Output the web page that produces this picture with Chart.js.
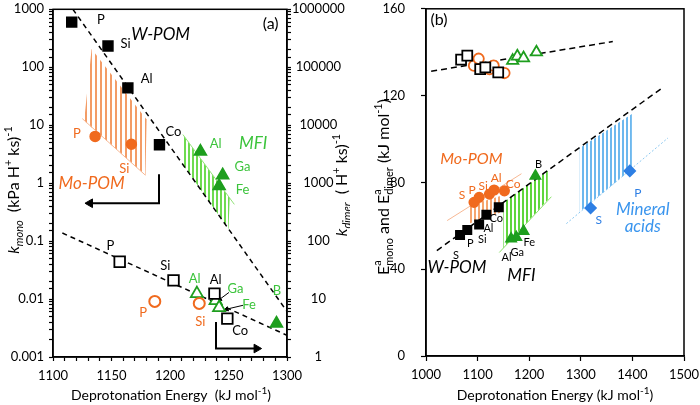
<!DOCTYPE html>
<html lang="en">
<head>
<meta charset="UTF-8">
<title>Rate constants and activation energies vs deprotonation energy</title>
<script src="https://cdn.jsdelivr.net/npm/chart.js"></script>
<style>
  html, body { margin: 0; padding: 0; background: #fff; }
  .wrap { display: flex; width: 700px; height: 405px; }
  canvas { display: block; }
</style>
</head>
<body>
<div class="wrap">
  <canvas id="chartA" width="350" height="405"></canvas>
  <canvas id="chartB" width="350" height="405"></canvas>
</div>
<script>
// ---------- panel (a): k vs deprotonation energy ----------
const aWpomMonoX = [1116, 1147, 1164, 1191];
const aWpomMonoY = [600, 232, 44, 4.6];
const aMopomMonoX = [1136, 1167];
const aMopomMonoY = [6.4, 4.7];
const aMfiMonoX = [1226, 1245, 1242, 1291];
const aMfiMonoY = [3.5, 1.37, 0.89, 0.0038];
// dimer rate constants, right axis units
const aWpomDimerX = [1157, 1203, 1238, 1249];
const aWpomDimerY = [44, 21, 12.4, 4.6];
const aMopomDimerX = [1187, 1225];
const aMopomDimerY = [9.1, 8.4];
const aMfiDimerX = [1223, 1239, 1242];
const aMfiDimerY = [12.4, 9.4, 7.1];
// trend lines
const aMonoFitX = [1117, 1300];
const aMonoFitY = [1000, 0.0061];
const aDimerFitX = [1108, 1300];
const aDimerFitY = [138, 2.37];
// shaded bands
const aMoBandX = [1127, 1133, 1180, 1179, 1127];
const aMoBandY = [14, 206, 12.5, 1.37, 11.7];
const aMoEdgeX = [1125, 1179];
const aMoEdgeY = [13, 1.37];
const aMfiBandX = [1211, 1251, 1250, 1211];
const aMfiBandY = [6.9, 0.55, 0.162, 2.1];
const aMfiEdgeX = [1211, 1255];
const aMfiEdgeY = [6.9, 0.43];
// arrows
const aArrowLeftX = [1190.6, 1190.6, 1131.6];
const aArrowLeftY = [1.42, 0.45, 0.45];
const aArrowRightX = [1239.3, 1239.3, 1274];
const aArrowRightY = [0.004, 0.0014, 0.0014];
const aArrowGaX = [1250.4, 1242.5];
const aArrowGaY = [0.013, 0.0099];
const aArrowFeX = [1262.4, 1248.5];
const aArrowFeY = [0.0078, 0.0067];

// ---------- panel (b): activation energies ----------
const bWpomMonoX = [1066, 1080, 1103, 1117, 1141];
const bWpomMonoY = [55.8, 58.1, 60.6, 65.1, 68.5];
const bMopomMonoX = [1093, 1103, 1123, 1132, 1152];
const bMopomMonoY = [70.8, 73.1, 74.6, 76.5, 76.1];
const bMfiMonoX = [1165, 1175, 1189, 1212];
const bMfiMonoY = [54.0, 54.7, 57.5, 83.0];
const bMineralX = [1319, 1395];
const bMineralY = [68.2, 85.3];
const bWpomDimerX = [1068, 1080, 1105, 1115, 1140];
const bWpomDimerY = [136.6, 138.4, 132.2, 133.0, 130.7];
const bMopomDimerX = [1093, 1102, 1123, 1131, 1152];
const bMopomDimerY = [133.8, 137.0, 132.2, 133.8, 130.4];
const bMfiDimerX = [1168, 1177, 1189, 1214];
const bMfiDimerY = [136.1, 138.1, 137.3, 140.0];
const bMonoFitX = [1021, 1457];
const bMonoFitY = [48.6, 123.4];
const bDimerFitX = [1010, 1362];
const bDimerFitY = [131.2, 144.9];
const bMoBandX = [1084, 1146, 1146, 1084];
const bMoBandY = [69.3, 73.9, 66.2, 61.1];
const bMfiBandX = [1150, 1236, 1236, 1150];
const bMfiBandY = [70.7, 85.5, 72, 49.7];
const bAcidBandX = [1298, 1399, 1399, 1298];
const bAcidBandY = [95.9, 111.5, 86.2, 66.5];
const bMoEdgeX = [1041, 1185];
const bMoEdgeY = [62.4, 84];
const bMfiEdgeX = [1142, 1243];
const bMfiEdgeY = [47.7, 73.4];
const bAcidEdgeX = [1272, 1469];
const bAcidEdgeY = [61, 100.5];

// ---------- text labels [text, x, y] ----------
const aBlackTags = [['P', 1141, 647], ['Si', 1162, 251], ['Al', 1180, 63], ['Co', 1203, 7.8],
  ['P', 1149, 0.083], ['Si', 1196, 0.038], ['Al', 1239, 0.0217], ['Co', 1260, 0.0028]];
const aOrangeTags = [['P', 1120.5, 7.2], ['Si', 1161, 1.74], ['P', 1177, 0.0057], ['Si', 1226, 0.004]];
const aGreenTags = [['Al', 1239, 4.7], ['Ga', 1262, 1.88], ['Fe', 1262, 0.76], ['Al', 1221, 0.0226],
  ['Ga', 1256, 0.0152], ['Fe', 1267.5, 0.0081], ['B', 1291.5, 0.0141]];
const bBlackTags = [['S', 1058, 46.3], ['P', 1086, 51.8], ['Si', 1109, 53.7], ['Al', 1121, 58.7], ['Co', 1136, 63.3],
  ['Al', 1156, 45.4], ['Ga', 1177, 47.7], ['Fe', 1200, 52.3], ['B', 1218, 88.5]];
const bOrangeTags = [['S', 1070, 74.3], ['P', 1089.5, 76.6], ['Si', 1111, 78.4], ['Al', 1136, 82.1], ['Co', 1169, 79.4]];
const bBlueTags = [['P', 1410.5, 75.2], ['S', 1334.6, 62.4]];

const FONT = 'Lato, "Open Sans", sans-serif';
const ORANGE = '#F06A1E';
const GREEN = '#1E9E1E';
const LGREEN = '#3CC43C';
const BLUE = '#2E7FE4';

const pts = (xs, ys) => xs.map((x, i) => ({ x: x, y: ys[i] }));

function stripes(color, period, width) {
  const c = document.createElement('canvas');
  c.width = period; c.height = 4;
  const g = c.getContext('2d');
  g.fillStyle = color;
  g.fillRect(0, 0, width, 4);
  return g.createPattern(c, 'repeat');
}

const mk = (xs, ys, o) => Object.assign({
  data: pts(xs, ys), showLine: false, order: 1, pointBorderWidth: 1.5
}, o);
const ln = (xs, ys, o) => Object.assign({
  data: pts(xs, ys), borderColor: '#000', borderWidth: 1.5, pointRadius: 0, fill: false, order: 2
}, o);
const band = (xs, ys, pattern) => ({
  data: pts(xs, ys), showLine: true, fill: 'shape', backgroundColor: pattern,
  borderColor: 'rgba(0,0,0,0)', borderWidth: 1, pointRadius: 0, order: 4
});
const arrow = (xs, ys, rot, r, w) => ln(xs, ys, {
  borderWidth: w, pointStyle: 'triangle', pointRotation: xs.map((x, i) => i === xs.length - 1 ? rot : 0),
  pointRadius: xs.map((x, i) => i === xs.length - 1 ? r : 0),
  pointBackgroundColor: '#000', pointBorderColor: '#000', pointBorderWidth: 1
});

function drawRich(ctx, parts, x, y, rot, size) {
  const small = Math.round(size * 0.68);
  const font = (p, s) => (p.i ? 'italic ' : '') + s + 'px ' + FONT;
  const widths = parts.map(p => {
    if (p.ss) {
      ctx.font = font(p, small);
      return Math.max(ctx.measureText(p.ss[0]).width, ctx.measureText(p.ss[1]).width);
    }
    ctx.font = font(p, p.sub || p.sup ? small : size);
    return ctx.measureText(p.t).width;
  });
  const total = widths.reduce((s, w) => s + w, 0);
  ctx.save();
  ctx.translate(x, y);
  ctx.rotate(rot);
  ctx.textAlign = 'left';
  ctx.textBaseline = 'alphabetic';
  ctx.fillStyle = '#000';
  let cx = -total / 2;
  const base = size * 0.35;
  parts.forEach((p, i) => {
    if (p.ss) {
      ctx.font = font(p, small);
      ctx.fillText(p.ss[0], cx, base - size * 0.45);
      ctx.fillText(p.ss[1], cx, base + size * 0.25);
    } else {
      ctx.font = font(p, p.sub || p.sup ? small : size);
      ctx.fillText(p.t, cx, base + (p.sub ? size * 0.25 : p.sup ? -size * 0.42 : 0));
    }
    cx += widths[i];
  });
  ctx.restore();
}

const notes = {
  id: 'notes',
  afterDraw(chart, args, opts) {
    const ctx = chart.ctx;
    const a = chart.chartArea;
    const xs = chart.scales.x, ys = chart.scales.y;
    ctx.save();
    ctx.strokeStyle = '#000';
    ctx.lineWidth = 1.5;
    ctx.strokeRect(a.left, a.top, a.right - a.left, a.bottom - a.top);
    ctx.textAlign = 'center';
    ctx.textBaseline = 'middle';
    for (const g of opts.groups) {
      ctx.font = g.font;
      ctx.fillStyle = g.color;
      for (const [t, x, y] of g.tags) ctx.fillText(t, xs.getPixelForValue(x), ys.getPixelForValue(y));
    }
    for (const t of opts.titles) drawRich(ctx, t.parts, t.x, t.y, t.rot, t.size);
    ctx.restore();
  }
};

const decade = v => {
  const l = Math.log10(v);
  return Math.abs(l - Math.round(l)) < 1e-6 ? String(Number(v.toPrecision(1))) : '';
};
const tickFont = { family: FONT, size: 13 };
const gridOf = len => ({ drawOnChartArea: false, drawTicks: true, tickLength: len, tickColor: '#000', tickWidth: 1.2 });
const borderOf = { color: '#000', width: 1.5 };
const fixW = w => s => { s.width = w; s.paddingTop = 0; s.paddingBottom = 0; };
const fixH = h => s => { s.height = h; s.paddingLeft = 0; s.paddingRight = 0; };
const small = n => n + 'px ' + FONT;
const ital = n => 'italic ' + n + 'px ' + FONT;

// ---------- chart (a) ----------
new Chart(document.getElementById('chartA'), {
  type: 'line',
  data: {
    datasets: [
      band(aMoBandX, aMoBandY, stripes('#F39C66', 5, 2)),
      band(aMfiBandX, aMfiBandY, stripes('#6EDB50', 4, 2)),
      ln(aMoEdgeX, aMoEdgeY, { borderColor: '#F7B894', borderWidth: 1, order: 3 }),
      ln(aMfiEdgeX, aMfiEdgeY, { borderColor: '#93E37A', borderWidth: 1, order: 3 }),
      ln(aMonoFitX, aMonoFitY, { borderDash: [5, 4] }),
      ln(aDimerFitX, aDimerFitY, { borderDash: [5, 4], yAxisID: 'y2' }),
      arrow(aArrowLeftX, aArrowLeftY, -90, 5, 2),
      arrow(aArrowRightX, aArrowRightY, 90, 5, 2),
      arrow(aArrowGaX, aArrowGaY, -125, 2.5, 1),
      arrow(aArrowFeX, aArrowFeY, -104, 2.5, 1),
      mk(aWpomMonoX, aWpomMonoY, { pointStyle: 'rect', pointRadius: 7, pointBackgroundColor: '#000', pointBorderColor: '#000' }),
      mk(aMopomMonoX, aMopomMonoY, { pointStyle: 'circle', pointRadius: 5, pointBackgroundColor: ORANGE, pointBorderColor: ORANGE }),
      mk(aMfiMonoX, aMfiMonoY, { pointStyle: 'triangle', pointRadius: 7, pointBackgroundColor: GREEN, pointBorderColor: GREEN }),
      mk(aWpomDimerX, aWpomDimerY, { yAxisID: 'y2', pointStyle: 'rect', pointRadius: 7.5, pointBackgroundColor: '#fff', pointBorderColor: '#000', pointBorderWidth: 1.8 }),
      mk(aMopomDimerX, aMopomDimerY, { yAxisID: 'y2', pointStyle: 'circle', pointRadius: 5.5, pointBackgroundColor: '#fff', pointBorderColor: ORANGE, pointBorderWidth: 2 }),
      mk(aMfiDimerX, aMfiDimerY, { yAxisID: 'y2', pointStyle: 'triangle', pointRadius: 7, pointBackgroundColor: '#fff', pointBorderColor: GREEN, pointBorderWidth: 1.8 })
    ]
  },
  options: {
    responsive: false,
    animation: false,
    events: [],
    layout: { padding: { top: 7, left: 0, right: 0, bottom: 0 } },
    plugins: {
      legend: { display: false },
      tooltip: { enabled: false },
      notes: {
        groups: [
          { font: small(13), color: '#000', tags: aBlackTags },
          { font: small(13), color: ORANGE, tags: aOrangeTags },
          { font: small(13), color: LGREEN, tags: aGreenTags },
          { font: ital(17), color: '#000', tags: [['W-POM', 1192, 373]] },
          { font: ital(17), color: ORANGE, tags: [['Mo-POM', 1133, 1.0]] },
          { font: ital(17), color: LGREEN, tags: [['MFI', 1271, 4.85]] },
          { font: small(16), color: '#000', tags: [['(a)', 1286, 553]] }
        ],
        titles: [
          { x: 13, y: 190, rot: -Math.PI / 2, size: 16, parts: [
            { t: 'k', i: true }, { t: 'mono', i: true, sub: true }, { t: '  (kPa H' }, { t: '+', sup: true }, { t: ' ks)' }, { t: '-1', sup: true }] },
          { x: 341, y: 185, rot: -Math.PI / 2, size: 16, parts: [
            { t: 'k', i: true }, { t: 'dimer', i: true, sub: true }, { t: '  ( H' }, { t: '+', sup: true }, { t: ' ks)' }, { t: '-1', sup: true }] },
          { x: 171, y: 395, rot: 0, size: 14, parts: [
            { t: 'Deprotonation Energy  (kJ mol' }, { t: '-1', sup: true }, { t: ')' }] }
        ]
      }
    },
    scales: {
      x: {
        type: 'linear', min: 1100, max: 1300,
        border: borderOf, grid: gridOf(4),
        ticks: { stepSize: 10, autoSkip: false, maxRotation: 0, padding: 7, color: '#000', font: tickFont,
          callback: v => v % 50 === 0 ? String(v) : '' },
        afterFit: fixH(48)
      },
      y: {
        type: 'logarithmic', position: 'left', min: 0.001, max: 1000,
        border: borderOf, grid: gridOf(4),
        ticks: { autoSkip: false, padding: 5, color: '#000', font: tickFont, callback: decade },
        afterFit: fixW(53)
      },
      y2: {
        type: 'logarithmic', position: 'right', min: 1, max: 1000000,
        border: borderOf, grid: gridOf(4),
        ticks: { autoSkip: false, padding: 1, crossAlign: 'center', color: '#000', font: tickFont, callback: decade },
        afterFit: fixW(63)
      }
    }
  },
  plugins: [notes]
});

// ---------- chart (b) ----------
new Chart(document.getElementById('chartB'), {
  type: 'line',
  data: {
    datasets: [
      band(bMoBandX, bMoBandY, stripes('#F5A56F', 4, 2)),
      band(bMfiBandX, bMfiBandY, stripes('#5FD63C', 4, 2)),
      band(bAcidBandX, bAcidBandY, stripes('#6DB8EE', 4, 2)),
      ln(bMoEdgeX, bMoEdgeY, { borderColor: '#F7B894', borderWidth: 1, order: 3 }),
      ln(bMfiEdgeX, bMfiEdgeY, { borderColor: '#8BE06B', borderWidth: 1, order: 3 }),
      ln(bAcidEdgeX, bAcidEdgeY, { borderColor: '#8CC8F0', borderWidth: 1, borderDash: [2, 2], order: 3 }),
      ln(bMonoFitX, bMonoFitY, { borderDash: [6, 4] }),
      ln(bDimerFitX, bDimerFitY, { borderDash: [6, 4] }),
      mk(bWpomMonoX, bWpomMonoY, { pointStyle: 'rect', pointRadius: 6, pointBackgroundColor: '#000', pointBorderColor: '#000' }),
      mk(bMopomMonoX, bMopomMonoY, { pointStyle: 'circle', pointRadius: 4.8, pointBackgroundColor: ORANGE, pointBorderColor: ORANGE }),
      mk(bMfiMonoX, bMfiMonoY, { pointStyle: 'triangle', pointRadius: 6, pointBackgroundColor: GREEN, pointBorderColor: GREEN }),
      mk(bMineralX, bMineralY, { pointStyle: 'rectRot', pointRadius: 5.5, pointBackgroundColor: BLUE, pointBorderColor: BLUE }),
      mk(bWpomDimerX, bWpomDimerY, { pointStyle: 'rect', pointRadius: 7, pointBackgroundColor: '#fff', pointBorderColor: '#000', pointBorderWidth: 1.8 }),
      mk(bMopomDimerX, bMopomDimerY, { pointStyle: 'circle', pointRadius: 5.2, pointBackgroundColor: '#fff', pointBorderColor: ORANGE, pointBorderWidth: 1.8 }),
      mk(bMfiDimerX, bMfiDimerY, { pointStyle: 'triangle', pointRadius: 6.5, pointBackgroundColor: '#fff', pointBorderColor: GREEN, pointBorderWidth: 1.8 })
    ]
  },
  options: {
    responsive: false,
    animation: false,
    events: [],
    layout: { padding: { top: 7, left: 0, right: 16, bottom: 0 } },
    plugins: {
      legend: { display: false },
      tooltip: { enabled: false },
      notes: {
        groups: [
          { font: small(11), color: '#000', tags: bBlackTags },
          { font: small(12), color: ORANGE, tags: bOrangeTags },
          { font: small(12), color: BLUE, tags: bBlueTags },
          { font: ital(17), color: '#000', tags: [['W-POM', 1060, 40.8], ['MFI', 1185, 37.2]] },
          { font: ital(16), color: ORANGE, tags: [['Mo-POM', 1088, 90.8]] },
          { font: ital(17), color: '#3A95EE', tags: [['Mineral', 1420, 67.4], ['acids', 1420, 59.6]] },
          { font: small(16), color: '#000', tags: [['(b)', 1025, 155]] }
        ],
        titles: [
          { x: 33, y: 187, rot: -Math.PI / 2, size: 16, parts: [
            { t: 'E' }, { ss: ['a', 'mono'] }, { t: ' and E' }, { ss: ['a', 'dimer'] }, { t: ' (kJ mol' }, { t: '-1', sup: true }, { t: ')' }] },
          { x: 205, y: 395, rot: 0, size: 14, parts: [
            { t: 'Deprotonation Energy (kJ mol' }, { t: '-1', sup: true }, { t: ')' }] }
        ]
      }
    },
    scales: {
      x: {
        type: 'linear', min: 1000, max: 1500,
        border: borderOf, grid: gridOf(5),
        ticks: { stepSize: 100, autoSkip: false, maxRotation: 0, padding: 6, color: '#000', font: tickFont,
          callback: v => String(v) },
        afterFit: fixH(49)
      },
      y: {
        type: 'linear', min: 0, max: 160,
        border: borderOf, grid: gridOf(5),
        ticks: { stepSize: 40, padding: 16, color: '#000', font: tickFont, callback: v => String(v) },
        afterFit: fixW(76)
      }
    }
  },
  plugins: [notes]
});
</script>
</body>
</html>
